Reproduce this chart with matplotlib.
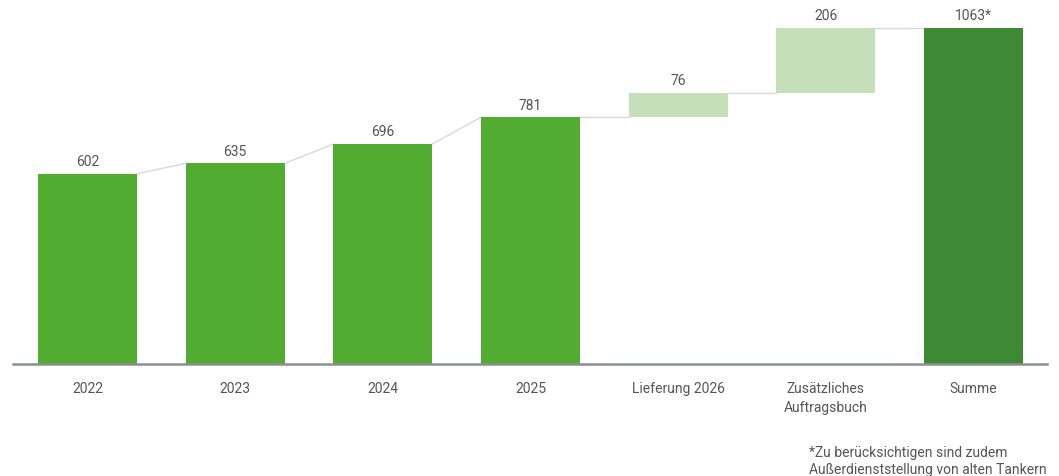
import numpy as np
import matplotlib.pyplot as plt

plt.rcParams['font.family'] = ['Roboto', 'DejaVu Sans']

categories = ["2022", "2023", "2024", "2025", "Lieferung 2026",
              "Zusätzliches\nAuftragsbuch", "Summe"]
values = [602, 635, 696, 781, 76, 206, 1063]
kinds = ["total", "total", "total", "total", "delta", "delta", "sum"]
labels = ["602", "635", "696", "781", "76", "206", "1063*"]

colors = {"total": "#52ac32", "delta": "#c5dfb8", "sum": "#3e8934"}
text_color = "#555555"

fig = plt.figure(figsize=(10.59, 4.77), dpi=100)
ax = fig.add_axes([13 / 1059, 112 / 477, 1034 / 1059, 365 / 477])

x = np.arange(len(categories))
w = 0.67

# waterfall: deltas stack on the running total
bottoms = []
tops = []
running = 0
for v, k in zip(values, kinds):
    if k == "delta":
        b = running
        running += v
    else:
        b = 0
        running = v
    bottoms.append(b)
    tops.append(b + v)

for i in range(len(x)):
    ax.bar(x[i], values[i], bottom=bottoms[i], width=w,
           color=colors[kinds[i]], zorder=2)
    ax.text(x[i], tops[i] + 18, labels[i], ha="center", va="bottom",
            fontsize=10, color=text_color)

# connector lines between bars
for i in range(len(x) - 1):
    y_next = bottoms[i + 1] if kinds[i + 1] == "delta" else tops[i + 1]
    ax.plot([x[i] + w / 2, x[i + 1] - w / 2], [tops[i], y_next],
            color="#d9d9d9", linewidth=1, zorder=1)

ax.set_xlim(-0.5045, 6.4975)
ax.set_ylim(0, 1155)
ax.set_xticks(x)
ax.set_xticklabels(categories, fontsize=10, color=text_color, linespacing=1.45)
ax.tick_params(axis="x", length=0, pad=12)
ax.set_yticks([])
for s in ["top", "right", "left"]:
    ax.spines[s].set_visible(False)
ax.spines["bottom"].set_color("#8a9090")
ax.spines["bottom"].set_linewidth(1.8)

fig.text(809 / 1059, 1 - 446 / 477,
         "*Zu berücksichtigen sind zudem\nAußerdienststellung von alten Tankern",
         ha="left", va="top", fontsize=10, color=text_color, linespacing=1.25)

fig.savefig("out.png", dpi=100)
